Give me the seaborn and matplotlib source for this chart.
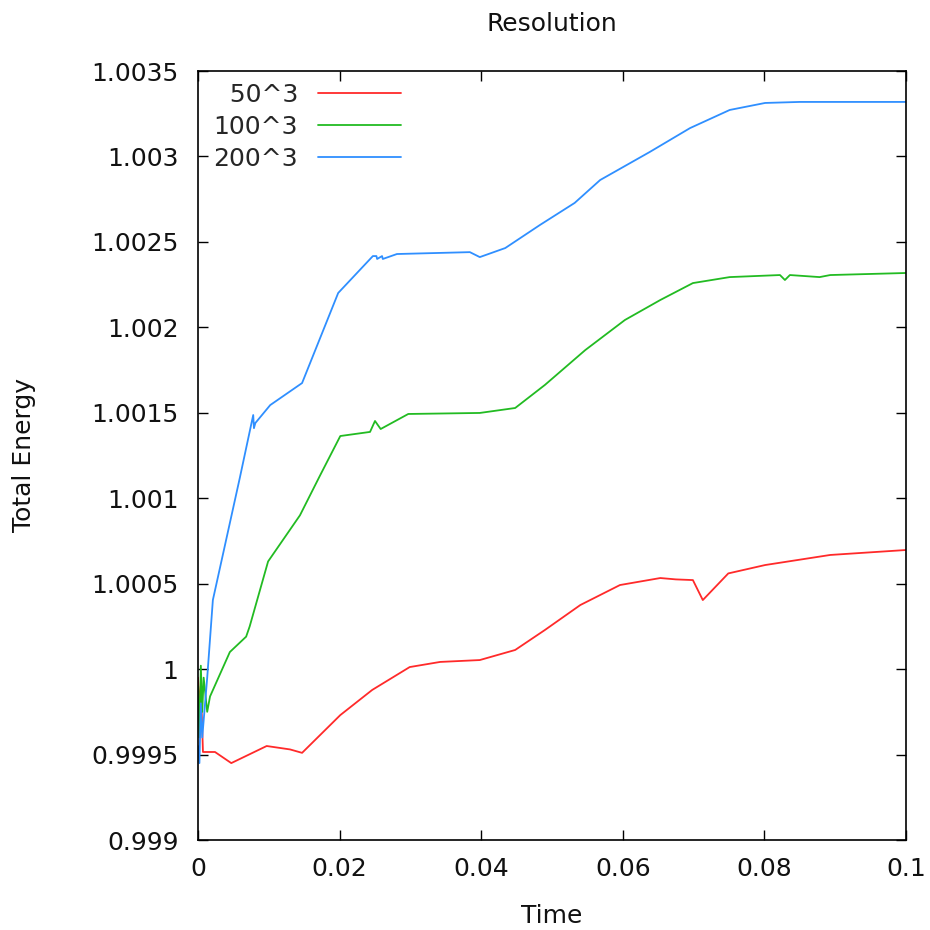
import numpy as np
import pandas as pd
import matplotlib
matplotlib.use("Agg")
import matplotlib.pyplot as plt
import seaborn as sns
from matplotlib.ticker import FuncFormatter, MultipleLocator
from matplotlib.lines import Line2D

labels = ["50^3", "100^3", "200^3"]
colors = ["#ff2a2a", "#22bb22", "#2f8fff"]

t_50 = [0.0, 0.0002, 0.0004, 0.0006, 0.0007, 0.0024, 0.0047, 0.0097, 0.0130, 0.0147,
        0.0201, 0.0246, 0.0299, 0.0342, 0.0398, 0.0448, 0.0490, 0.0540, 0.0596,
        0.0653, 0.0675, 0.0699, 0.0713, 0.0749, 0.0801, 0.0893, 0.1000]
e_50 = [0.99995, 0.99978, 0.99990, 0.99965, 0.999515, 0.999515, 0.99945, 0.99955, 0.99953, 0.99951,
        0.999731, 0.999878, 1.000012, 1.000042, 1.000053, 1.000112, 1.000229, 1.000375, 1.000492,
        1.000533, 1.000525, 1.000521, 1.000404, 1.00056, 1.000609, 1.000668, 1.000697]

t_100 = [0.0, 0.0002, 0.0004, 0.0006, 0.0008, 0.0013, 0.0017, 0.0045, 0.0068, 0.0073,
         0.0099, 0.0144, 0.0172, 0.0201, 0.0243, 0.0250, 0.0258, 0.0297, 0.0398, 0.0448,
         0.0490, 0.0547, 0.0603, 0.0653, 0.0699, 0.0751, 0.0822, 0.0829, 0.0836, 0.0878,
         0.0893, 0.1000]
e_100 = [0.9999, 0.9996, 1.00002, 0.99975, 0.99995, 0.99975, 0.99984, 1.00010, 1.00019, 1.00025,
         1.00063, 1.00090, 1.00113, 1.001364, 1.001388, 1.001452, 1.001405, 1.001493, 1.001499, 1.001528,
         1.001663, 1.001867, 1.002043, 1.00216, 1.002259, 1.002294, 1.002306, 1.002277, 1.002306, 1.002294,
         1.002306, 1.002318]

t_200 = [0.0, 0.0002, 0.0004, 0.0006, 0.0010, 0.0013, 0.0021, 0.0059, 0.0078, 0.0079,
         0.0081, 0.0102, 0.0147, 0.0198, 0.0247, 0.0252, 0.0253, 0.0260, 0.0261, 0.0281,
         0.0384, 0.0398, 0.0434, 0.0483, 0.0532, 0.0568, 0.0638, 0.0695, 0.0751, 0.0801,
         0.0850, 0.1000]
e_200 = [0.99955, 0.99945, 0.9998, 0.9996, 0.9998, 0.99995, 1.0004044, 1.001118, 1.001487, 1.00141,
         1.00144, 1.001545, 1.001674, 1.002201, 1.002417, 1.002417, 1.0024, 1.002417, 1.0024, 1.002429,
         1.00244, 1.002411, 1.002464, 1.002599, 1.002728, 1.002862, 1.003026, 1.003166, 1.003272, 1.003313,
         1.003319, 1.003319]

frames = []
for lab, t, e in zip(labels, [t_50, t_100, t_200], [e_50, e_100, e_200]):
    frames.append(pd.DataFrame({"Time": t, "Energy": e, "Resolution": lab}))
df = pd.concat(frames, ignore_index=True)

sns.set_style("ticks")
plt.rcParams["font.family"] = ["DejaVu Sans"]

fig = plt.figure(figsize=(9.3, 9.3), dpi=100)
ax = fig.add_axes([198/930, 1 - 840/930, 708/930, 769/930])

sns.lineplot(data=df, x="Time", y="Energy", hue="Resolution",
             estimator=None, sort=False, palette=dict(zip(labels, colors)),
             linewidth=1.3, ax=ax, legend=False)

ax.set_xlim(0, 0.1)
ax.set_ylim(0.999, 1.0035)
ax.xaxis.set_major_locator(MultipleLocator(0.02))
ax.yaxis.set_major_locator(MultipleLocator(0.0005))
fmt = FuncFormatter(lambda v, p: "%g" % round(v, 6))
ax.xaxis.set_major_formatter(fmt)
ax.yaxis.set_major_formatter(fmt)

ax.tick_params(direction="in", length=7, width=1, labelsize=18, pad=14,
               top=True, right=True, color="black", labelcolor="#111111")
ax.tick_params(axis="x", pad=12)
for s in ax.spines.values():
    s.set_visible(True)
    s.set_linewidth(1.2)
    s.set_color("black")

ax.set_title("Resolution", fontsize=18, pad=29, color="#111111")
ax.set_xlabel("Time", fontsize=18, labelpad=17, color="#111111")
ax.set_ylabel("Total Energy", fontsize=18, labelpad=40, color="#111111")

handles = [Line2D([], [], color=c, linewidth=1.3) for c in colors]
leg_labels = ["\u2007" + labels[0], labels[1], labels[2]]
leg = ax.legend(handles, leg_labels, loc="upper left", bbox_to_anchor=(0.022, 0.985),
                frameon=False, markerfirst=False, fontsize=18, handlelength=3.3,
                handletextpad=0.8, labelspacing=0.33, borderpad=0, borderaxespad=0)

fig.savefig("out.png", dpi=100)
